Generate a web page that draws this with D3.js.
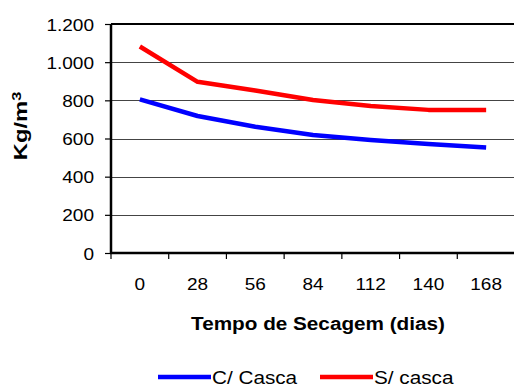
<!DOCTYPE html>
<html>
<head>
<meta charset="utf-8">
<script src="https://cdn.jsdelivr.net/npm/d3@7"></script>
<style>
  html, body { margin: 0; padding: 0; background: #fff; }
  svg { display: block; }
  text { font-family: "Liberation Sans", Arial, sans-serif; fill: #000; }
</style>
</head>
<body>
<svg id="chart" width="514" height="387"></svg>
<script>
// Drying time (days) and bulk density for each sample type
const days = ["0", "28", "56", "84", "112", "140", "168"];
const comCasca = [805, 718, 662, 618, 592, 571, 553];
const semCasca = [1082, 897, 852, 802, 770, 750, 750];
const yTicks = [0, 200, 400, 600, 800, 1000, 1200];

const series = [
  { name: "C/ Casca", values: comCasca, color: "#0000ff" },
  { name: "S/ casca", values: semCasca, color: "#ff0000" }
];

const svg = d3.select("#chart");
const plotLeft = 111, plotTop = 24, plotBottom = 253, plotRight = 515;
const stretch = 1.12;   // horizontal widening of all labels

const x = d3.scaleBand().domain(days).range([plotLeft, plotRight]);
const y = d3.scaleLinear().domain([0, 1200]).range([plotBottom, plotTop]);

const fmt = d => d3.format(",")(d).replace(/,/g, ".");

// Places a horizontally widened text label
function label(parent, tx, ty, str, opts) {
  const g = parent.append("g").attr("transform", `translate(${tx},${ty}) scale(${stretch},1)`);
  return g.append("text")
    .attr("text-anchor", opts.anchor || "middle")
    .attr("font-size", opts.size)
    .attr("font-weight", opts.weight || "normal")
    .text(str);
}

// Horizontal gridlines
svg.append("g")
  .selectAll("line")
  .data(yTicks.filter(t => t > 0 && t < 1200))
  .join("line")
  .attr("x1", plotLeft).attr("x2", plotRight)
  .attr("y1", d => Math.round(y(d)) + 0.5).attr("y2", d => Math.round(y(d)) + 0.5)
  .attr("stroke", "#444").attr("stroke-width", 1);

// Top border of plot area
svg.append("line")
  .attr("x1", plotLeft).attr("x2", plotRight)
  .attr("y1", y(1200)).attr("y2", y(1200))
  .attr("stroke", "#000").attr("stroke-width", 2);

// Y axis
const yAxis = svg.append("g")
  .attr("transform", `translate(${plotLeft},0)`)
  .call(d3.axisLeft(y).tickValues(yTicks).tickFormat(fmt).tickSize(6));
yAxis.select(".domain").attr("stroke-width", 2.5).attr("d", `M0,${plotTop}V${plotBottom}`);
yAxis.selectAll(".tick line").attr("stroke-width", 1.2);
yAxis.selectAll(".tick text").remove();
yAxis.selectAll(".tick").each(function (d) {
  label(d3.select(this), -17, 6, fmt(d), { size: 17, anchor: "end" });
});

// X axis: ticks at category boundaries, labels at centers
const bounds = days.map(d => x(d)).concat([plotRight]);
const xg = svg.append("g");
xg.append("line")
  .attr("x1", plotLeft - 1).attr("x2", plotRight)
  .attr("y1", plotBottom).attr("y2", plotBottom)
  .attr("stroke", "#000").attr("stroke-width", 2.5);
xg.selectAll("line.tk")
  .data(bounds)
  .join("line").attr("class", "tk")
  .attr("x1", d => d).attr("x2", d => d)
  .attr("y1", plotBottom).attr("y2", plotBottom + 6)
  .attr("stroke", "#000").attr("stroke-width", 1.2);
days.forEach(d => label(xg, x(d) + x.bandwidth() / 2, 290, d, { size: 17 }));

// Series lines
const line = d3.line()
  .x((v, i) => x(days[i]) + x.bandwidth() / 2)
  .y(v => y(v));

svg.append("g")
  .selectAll("path")
  .data(series)
  .join("path")
  .attr("d", s => line(s.values))
  .attr("fill", "none")
  .attr("stroke", s => s.color)
  .attr("stroke-width", 4.5)
  .attr("stroke-linejoin", "round");

// Axis titles
label(svg, 318, 330, "Tempo de Secagem (dias)", { size: 18.5, weight: "bold" });

const yTitle = svg.append("g")
  .attr("transform", `translate(27,126) rotate(-90) scale(1.25,1)`)
  .append("text")
  .attr("text-anchor", "middle")
  .attr("font-size", 19).attr("font-weight", "bold");
yTitle.append("tspan").text("Kg/m");
yTitle.append("tspan").attr("dy", -6).attr("font-size", 13).text("3");

// Legend
const legendX = [158, 320];
const lg = svg.append("g").selectAll("g")
  .data(series)
  .join("g")
  .attr("transform", (s, i) => `translate(${legendX[i]},377)`);
lg.append("line")
  .attr("x1", 0).attr("x2", 53)
  .attr("y1", 0).attr("y2", 0)
  .attr("stroke", s => s.color).attr("stroke-width", 4.5);
lg.each(function (s) {
  label(d3.select(this), 54, 7, s.name, { size: 18.5, anchor: "start" });
});
</script>
</body>
</html>
